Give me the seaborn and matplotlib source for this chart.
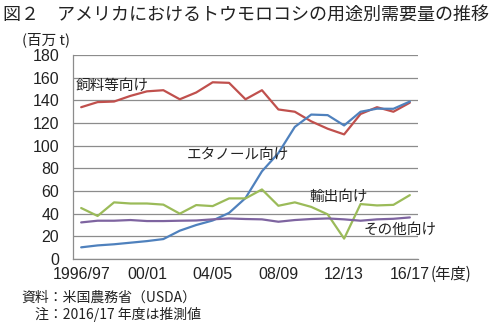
import numpy as np
import pandas as pd
import matplotlib
matplotlib.use("Agg")
import matplotlib.pyplot as plt
import seaborn as sns

# US corn demand by use (million t), marketing years 1996/97 - 2016/17
years = ["1996/97", "97/98", "98/99", "99/00", "00/01", "01/02", "02/03", "03/04",
         "04/05", "05/06", "06/07", "07/08", "08/09", "09/10", "10/11", "11/12",
         "12/13", "13/14", "14/15", "15/16", "16/17"]
feed = [134, 138.5, 139, 144, 148, 149, 141, 147, 156, 155.5, 141, 149, 132, 130,
        121.5, 115, 110, 128, 134, 130, 138]
ethanol = [10.3, 12, 13, 14.4, 15.8, 17.6, 25, 30, 34, 40.7, 53.8, 77.4, 93.5,
           116.6, 127.5, 127, 117.9, 130, 132.7, 132.6, 139]
exports = [45, 38, 50, 49, 49, 48, 40, 47.6, 46.7, 53.5, 53.5, 61.4, 47, 50, 46,
           39.4, 18, 48.5, 47.3, 47.8, 56.4]
other = [32.3, 33.8, 33.8, 34.4, 33.5, 33.5, 33.8, 34, 35, 35.8, 35.3, 35, 32.9,
         34.4, 35.3, 35.8, 35, 33.8, 35, 35.5, 36.7]

series_names = ["飼料等向け", "エタノール向け", "輸出向け", "その他向け"]
series_values = [feed, ethanol, exports, other]
colors = ["#C0504D", "#4F81BD", "#9BBB59", "#7E64A0"]

tick_idx = [0, 4, 8, 12, 16, 20]
tick_labels = ["1996/97", "00/01", "04/05", "08/09", "12/13", "16/17"]
y_ticks = list(range(0, 181, 20))

rows = []
for name, vals in zip(series_names, series_values):
    for i, v in enumerate(vals):
        rows.append({"idx": i, "value": v, "use": name})
df = pd.DataFrame(rows)

sns.set_theme(style="white")
jp = ["Noto Sans CJK JP", "DejaVu Sans"]
latin = ["Liberation Sans", "Noto Sans CJK JP"]
plt.rcParams["font.family"] = jp

fig = plt.figure(figsize=(4.93, 3.26), dpi=100)
ax = fig.add_axes([0.148, 0.2055, 0.70, 0.6255])

sns.lineplot(data=df, x="idx", y="value", hue="use", hue_order=series_names,
             palette=colors, linewidth=1.6, legend=False, ax=ax)

ax.set_xlim(-0.5, len(years) - 0.5)
ax.set_ylim(0, 180)
ax.set_yticks(y_ticks)
ax.set_yticklabels([str(t) for t in y_ticks], fontfamily=latin, fontsize=11.5)
ax.set_xticks(tick_idx)
ax.set_xticklabels(tick_labels, fontfamily=latin, fontsize=11.5)
ax.tick_params(axis="both", length=0, colors="#222222")
ax.tick_params(axis="y", pad=10)
ax.tick_params(axis="x", pad=6)
ax.set_xlabel("")
ax.set_ylabel("")

ax.yaxis.grid(True, color="#8c8c8c", linewidth=0.9)
ax.set_axisbelow(True)
for side in ["top", "right"]:
    ax.spines[side].set_visible(False)
for side in ["left", "bottom"]:
    ax.spines[side].set_color("#8c8c8c")
    ax.spines[side].set_linewidth(0.9)

# Unit after the last tick
ax.annotate("(年度)", xy=(20, 0), xycoords=("data", "axes fraction"),
            xytext=(21, -7), textcoords="offset pixels", ha="left", va="top",
            fontsize=11, fontfamily=jp, color="#222222")

# Series labels
ax.text(-0.35, 152.5, "飼料等向け", fontsize=10.5, ha="left", va="center", color="#222222")
ax.text(6.4, 92, "エタノール向け", fontsize=10.5, ha="left", va="center", color="#222222")
ax.text(13.9, 54.5, "輸出向け", fontsize=10.5, ha="left", va="center", color="#222222")
ax.text(17.2, 26, "その他向け", fontsize=10.5, ha="left", va="center", color="#222222")

# Title, unit and notes
fig.text(0.006, 0.955, "図２　アメリカにおけるトウモロコシの用途別需要量の推移",
         fontsize=13, ha="left", va="center", color="#222222")
fig.text(0.044, 0.877, "(百万 t)", fontsize=10.5, ha="left", va="center", color="#222222")
fig.text(0.044, 0.088, "資料：米国農務省（USDA）", fontsize=10, ha="left", va="center",
         color="#222222")
fig.text(0.070, 0.036, "注：2016/17 年度は推測値", fontsize=10, ha="left", va="center",
         color="#222222")

fig.savefig("out.png", dpi=100)
